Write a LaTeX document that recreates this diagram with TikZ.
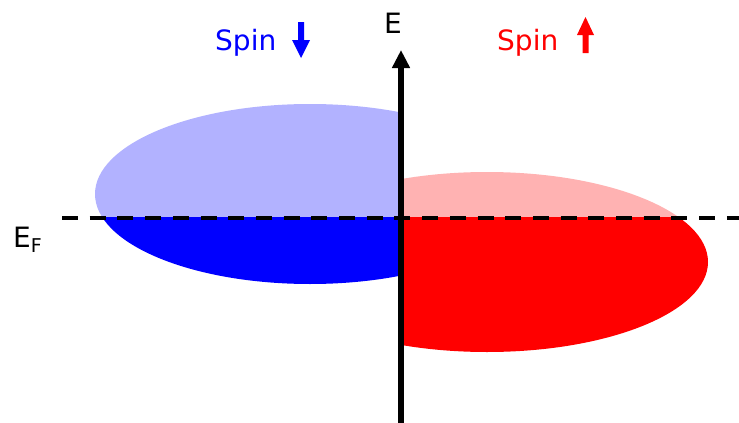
\documentclass[tikz,border=0pt]{standalone}
\usepackage{fontspec}
\setmainfont{DejaVu Sans}
\usetikzlibrary{arrows.meta}
\definecolor{lblue}{RGB}{178,178,255}
\definecolor{lred}{RGB}{255,178,178}
\begin{document}
\begin{tikzpicture}[x=1pt,y=-1pt,
  lbl/.style={inner sep=0pt, anchor=base west},
  big/.style={font=\fontsize{28}{30}\selectfont},
  axisline/.style={line width=5.5pt, -{Triangle[width=17pt,length=18pt]}},
  fermi/.style={line width=4pt, dash pattern=on 16pt off 11.7pt}]
\useasboundingbox (0,0) rectangle (739,423);
% spin down band (left)
\begin{scope}
\clip (0,0) rectangle (401,217.5);
\fill[lblue] (310,194) ellipse [x radius=215pt, y radius=90pt];
\end{scope}
\begin{scope}
\clip (0,217.5) rectangle (401,423);
\fill[blue] (310,194) ellipse [x radius=215pt, y radius=90pt];
\end{scope}
% spin up band (right)
\begin{scope}
\clip (401,0) rectangle (739,217.5);
\fill[lred] (487,262) ellipse [x radius=221pt, y radius=90pt];
\end{scope}
\begin{scope}
\clip (401,217.5) rectangle (739,423);
\fill[red] (487,262) ellipse [x radius=221pt, y radius=90pt];
\end{scope}
% Fermi level
\coordinate (efl) at (62,217.5);
\coordinate (efr) at (739,217.5);
\draw[fermi] (efl) -- (efr);
% energy axis
\coordinate (axbot) at (401,423);
\coordinate (axtop) at (401,50);
\draw[axisline] (axbot) -- (axtop);
% labels
\node[lbl, big] (E) at (384,33) {E};
\node[lbl, big] (EF) at (13,247) {E\textsubscript{\fontsize{19}{20}\selectfont F}};
\node[lbl, big, text=blue] (sd) at (215,50) {Spin};
\node[lbl, big, text=red] (su) at (497,50) {Spin};
% spin arrows
\fill[blue] (298,22) -- (304,22) -- (304,40) -- (310,40) -- (301,58) -- (292,40) -- (298,40) -- cycle;
\fill[red] (582.5,53) -- (588.5,53) -- (588.5,35) -- (594,35) -- (585.5,17) -- (577,35) -- (582.5,35) -- cycle;
\end{tikzpicture}
\end{document}
